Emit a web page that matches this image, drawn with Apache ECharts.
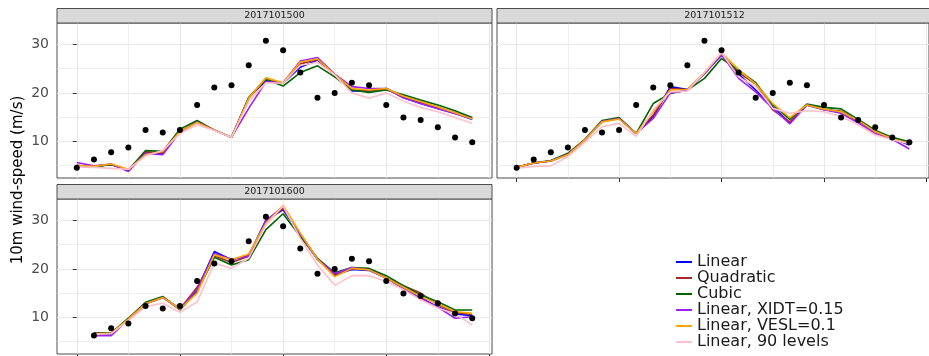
<!DOCTYPE html>
<html>
<head>
<meta charset="utf-8">
<script src="https://cdn.jsdelivr.net/npm/echarts@6/dist/echarts.min.js"></script>
<style>
  html, body { margin: 0; padding: 0; background: #fff; }
  #chart { width: 929px; height: 356px; }
</style>
</head>
<body>
<div id="chart"></div>
<script>
// Forecast step (hourly index) shared by every panel
const steps = [0, 1, 2, 3, 4, 5, 6, 7, 8, 9, 10, 11, 12, 13, 14, 15, 16, 17, 18, 19, 20, 21, 22, 23];

// Panel titles (forecast initialisation)
const panelTitles = ['2017101500', '2017101512', '2017101600'];

// Observed 10 m wind speed (m/s)
const observed00 = [4.5, 6.2, 7.7, 8.7, 12.3, 11.8, 12.3, 17.5, 21.1, 21.6, 25.7, 30.8, 28.8, 24.2, 19.0, 20.0, 22.1, 21.6, 17.5, 14.9, 14.4, 12.9, 10.8, 9.8];
const observed12 = [4.5, 6.2, 7.7, 8.7, 12.3, 11.8, 12.3, 17.5, 21.1, 21.6, 25.7, 30.8, 28.8, 24.2, 19.0, 20.0, 22.1, 21.6, 17.5, 14.9, 14.4, 12.9, 10.8, 9.8];
const observed1600 = [null, 6.2, 7.7, 8.7, 12.3, 11.8, 12.3, 17.5, 21.1, 21.6, 25.7, 30.8, 28.8, 24.2, 19.0, 20.0, 22.1, 21.6, 17.5, 14.9, 14.4, 12.9, 10.8, 9.8];

// 2017101500 runs
const linear00    = [5.0, 4.8, 5.2, 4.0, 7.7, 7.5, 12.0, 14.0, 12.3, 10.8, 19.0, 22.5, 22.0, 25.3, 26.8, 23.7, 20.4, 20.4, 20.9, 19.0, 17.8, 16.8, 15.8, 14.5];
const quadratic00 = [5.0, 4.8, 5.2, 4.0, 7.8, 7.6, 12.0, 14.0, 12.3, 10.8, 19.0, 23.0, 22.0, 26.0, 26.9, 23.7, 20.6, 20.4, 20.9, 19.2, 18.0, 17.0, 15.9, 14.7];
const cubic00     = [5.0, 4.7, 5.2, 4.0, 8.1, 7.9, 12.5, 14.3, 12.3, 10.8, 19.0, 22.8, 21.4, 24.2, 25.6, 23.3, 20.6, 20.1, 20.6, 19.6, 18.5, 17.5, 16.3, 14.9];
const xidt00      = [5.6, 4.9, 5.3, 3.75, 7.5, 7.2, 11.9, 14.0, 12.3, 10.8, 16.8, 22.3, 22.1, 26.6, 27.3, 23.9, 21.3, 20.9, 20.9, 19.0, 17.8, 16.7, 15.7, 14.7];
const vesl00      = [5.0, 4.8, 5.3, 4.2, 7.2, 7.9, 12.0, 13.9, 12.3, 10.8, 18.9, 23.1, 22.1, 26.4, 27.0, 23.8, 20.9, 20.6, 20.9, 19.3, 18.2, 17.1, 15.9, 14.6];
const lev90_00    = [4.7, 4.6, 4.4, 4.2, 7.0, 8.1, 11.6, 13.4, 12.2, 10.8, 18.2, 22.1, 22.0, 25.7, 26.3, 23.7, 20.0, 18.9, 20.0, 18.3, 17.0, 16.1, 14.9, 13.7];

// 2017101512 runs
const linear12    = [4.6, 5.5, 5.9, 7.3, 10.3, 14.1, 14.7, 11.6, 15.1, 21.3, 20.7, 24.0, 27.8, 23.9, 20.6, 17.1, 13.8, 17.5, 16.5, 16.1, 14.1, 12.0, 10.6, 9.2];
const quadratic12 = [4.6, 5.5, 5.9, 7.3, 10.3, 14.1, 14.7, 11.6, 15.4, 20.9, 20.7, 24.0, 28.0, 24.2, 21.8, 16.5, 14.0, 17.5, 16.6, 16.2, 14.2, 12.1, 10.6, 9.6];
const cubic12     = [4.6, 5.5, 6.0, 7.5, 10.4, 14.3, 14.9, 11.6, 17.8, 19.9, 20.6, 23.0, 27.1, 24.7, 22.1, 17.5, 14.5, 17.7, 17.0, 16.7, 14.5, 12.3, 10.8, 9.9];
const xidt12      = [4.6, 5.5, 5.9, 7.3, 10.3, 14.1, 14.7, 11.6, 14.7, 20.0, 20.5, 24.0, 28.0, 23.0, 20.2, 16.8, 13.6, 17.5, 16.5, 15.8, 13.8, 11.6, 10.4, 8.4];
const vesl12      = [4.6, 5.5, 5.9, 7.2, 10.3, 14.0, 14.6, 11.6, 16.1, 20.6, 20.7, 24.2, 28.3, 24.8, 21.8, 17.8, 14.9, 17.5, 16.6, 16.1, 14.3, 12.0, 10.5, 9.6];
const lev90_12    = [4.4, 4.8, 4.9, 6.8, 9.8, 13.0, 13.7, 11.0, 16.5, 20.2, 20.4, 24.2, 28.3, 23.3, 21.3, 16.8, 15.8, 16.3, 16.1, 15.1, 13.4, 11.3, 10.3, 9.5];

// 2017101600 runs
const linear1600    = [null, 6.6, 6.3, 9.6, 12.8, 14.1, 11.7, 15.7, 23.6, 21.9, 22.7, 30.1, 32.2, 27.0, 22.0, 18.8, 19.9, 19.7, 18.1, 16.0, 14.1, 12.1, 10.7, 10.3];
const quadratic1600 = [null, 6.8, 6.7, 9.6, 12.8, 14.1, 11.7, 16.2, 22.7, 21.3, 22.6, 29.6, 32.5, 27.2, 22.0, 18.6, 20.1, 19.9, 18.1, 16.5, 15.0, 12.6, 11.0, 10.5];
const cubic1600     = [null, 6.7, 6.7, 9.8, 13.1, 14.3, 11.5, 15.3, 22.4, 20.8, 21.9, 28.1, 31.4, 26.7, 22.2, 19.2, 20.3, 20.1, 18.6, 16.5, 14.6, 13.2, 11.5, 11.5];
const xidt1600      = [null, 6.2, 6.2, 9.6, 12.8, 14.1, 11.7, 15.7, 23.2, 22.0, 22.6, 30.0, 32.9, 27.2, 22.0, 19.0, 20.3, 19.8, 18.1, 16.0, 13.9, 12.1, 9.8, 10.1];
const vesl1600      = [null, 6.5, 6.7, 9.6, 12.8, 14.1, 11.7, 15.0, 22.9, 21.9, 23.1, 29.4, 33.1, 27.4, 22.0, 18.4, 20.1, 19.8, 18.1, 16.2, 14.3, 12.8, 11.2, 10.8];
const lev90_1600    = [null, 6.5, 6.6, 9.3, 12.2, 12.9, 11.0, 13.2, 21.2, 20.1, 22.2, 29.1, 33.0, 26.3, 20.8, 16.6, 18.6, 18.6, 17.4, 15.7, 13.6, 11.9, 10.7, 8.4];

const methodNames  = ['Linear', 'Quadratic', 'Cubic', 'Linear, XIDT=0.15', 'Linear, VESL=0.1', 'Linear, 90 levels'];
const methodColors = ['#0000FF', '#A52A2A', '#006400', '#A020F0', '#FFA500', '#FFC0CB'];

// Axis breaks
const xMajor = [0, 6, 12, 18, 24];
const xMinor = [3, 9, 15, 21];
const yMajor = [10, 20, 30];
const yMinor = [5, 15, 25];
const yTickLabels = ['10', '20', '30'];

const runsByPanel = [
  { obs: observed00,   runs: [linear00, quadratic00, cubic00, xidt00, vesl00, lev90_00] },
  { obs: observed12,   runs: [linear12, quadratic12, cubic12, xidt12, vesl12, lev90_12] },
  { obs: observed1600, runs: [linear1600, quadratic1600, cubic1600, xidt1600, vesl1600, lev90_1600] }
];

const pairs = vals => steps.map((s, i) => [s, vals[i]]).filter(p => p[1] != null);

// Panel layout (facet_wrap, 2 columns)
const panelBoxes = [
  { left: 57,  top: 23,  width: 435, height: 155, yLabels: true,  xTicks: false },
  { left: 497, top: 23,  width: 435, height: 155, yLabels: false, xTicks: true },
  { left: 57,  top: 199, width: 435, height: 155, yLabels: true,  xTicks: true }
];
const stripH = 14.5;
const X_RANGE = [-1.15, 24.15];
const Y_RANGE = [2.4, 34.45];
const gridGrey = '#e8e8e8';
const frameGrey = '#4d4d4d';

const grid = [], xAxis = [], yAxis = [], series = [], graphic = [];

panelBoxes.forEach((b, p) => {
  grid.push({ left: b.left, top: b.top, width: b.width, height: b.height,
    show: true, backgroundColor: '#fff', borderColor: frameGrey, borderWidth: 1, containLabel: false });

  // major x breaks (+ ticks on bottom panels)
  xAxis.push({ type: 'value', gridIndex: p, min: X_RANGE[0], max: X_RANGE[1],
    axisLine: { show: false },
    axisTick: { show: b.xTicks, length: 4, lineStyle: { color: '#333', width: 1 }, customValues: xMajor },
    axisLabel: { show: false, customValues: xMajor },
    splitLine: { show: true, lineStyle: { color: gridGrey, width: 1.1 } } });
  // minor x breaks
  xAxis.push({ type: 'value', gridIndex: p, min: X_RANGE[0], max: X_RANGE[1],
    axisLine: { show: false },
    axisTick: { show: false, customValues: xMinor },
    axisLabel: { show: false, customValues: xMinor },
    splitLine: { show: true, lineStyle: { color: gridGrey, width: 0.7 } } });

  yAxis.push({ type: 'value', gridIndex: p, min: Y_RANGE[0], max: Y_RANGE[1],
    axisLine: { show: false },
    axisTick: { show: b.yLabels, length: 4, lineStyle: { color: '#333', width: 1 }, customValues: yMajor },
    axisLabel: { show: b.yLabels, customValues: yMajor, margin: 8, color: '#4d4d4d', fontSize: 14,
      fontFamily: 'DejaVu Sans', formatter: v => yTickLabels[yMajor.indexOf(v)] ?? String(v) },
    splitLine: { show: true, lineStyle: { color: gridGrey, width: 1.1 } } });
  yAxis.push({ type: 'value', gridIndex: p, min: Y_RANGE[0], max: Y_RANGE[1],
    axisLine: { show: false },
    axisTick: { show: false, customValues: yMinor },
    axisLabel: { show: false, customValues: yMinor },
    splitLine: { show: true, lineStyle: { color: gridGrey, width: 0.7 } } });

  const panel = runsByPanel[p];
  panel.runs.forEach((vals, m) => {
    series.push({ type: 'line', name: methodNames[m], xAxisIndex: 2 * p, yAxisIndex: 2 * p,
      data: pairs(vals), showSymbol: false, symbol: 'none', color: methodColors[m],
      lineStyle: { width: 1.6, color: methodColors[m] }, z: 3 + m * 0.01, silent: true });
  });
  series.push({ type: 'scatter', name: 'Observed', xAxisIndex: 2 * p, yAxisIndex: 2 * p,
    data: pairs(panel.obs), symbolSize: 6, itemStyle: { color: '#000', opacity: 1 }, z: 5, silent: true });

  // facet strip
  graphic.push({ type: 'rect', shape: { x: b.left, y: b.top - stripH, width: b.width, height: stripH },
    style: { fill: '#d9d9d9', stroke: frameGrey, lineWidth: 1 }, z: 10 });
  graphic.push({ type: 'text', x: b.left + b.width / 2, y: b.top - stripH / 2,
    style: { text: panelTitles[p], fontSize: 9.5, fontFamily: 'DejaVu Sans', fill: '#1a1a1a',
      align: 'center', verticalAlign: 'middle' }, z: 11 });
});

// y-axis title spanning the left column
graphic.push({ type: 'text', x: 18, y: 180, rotation: Math.PI / 2,
  style: { text: '10m wind-speed (m/s)', fontSize: 15, fontFamily: 'DejaVu Sans', fill: '#000',
    align: 'center', verticalAlign: 'middle' } });

const chart = echarts.init(document.getElementById('chart'), null, { renderer: 'canvas' });
chart.setOption({
  animation: false,
  backgroundColor: '#fff',
  grid, xAxis, yAxis, series, graphic,
  legend: {
    data: methodNames,
    orient: 'vertical',
    left: 671,
    top: 249,
    itemWidth: 16,
    itemHeight: 2,
    itemGap: 0,
    icon: 'rect',
    selectedMode: false,
    textStyle: { fontSize: 16, fontFamily: 'DejaVu Sans', color: '#1a1a1a', lineHeight: 15.3, padding: [0, 0, 0, 0] }
  }
});
</script>
</body>
</html>
